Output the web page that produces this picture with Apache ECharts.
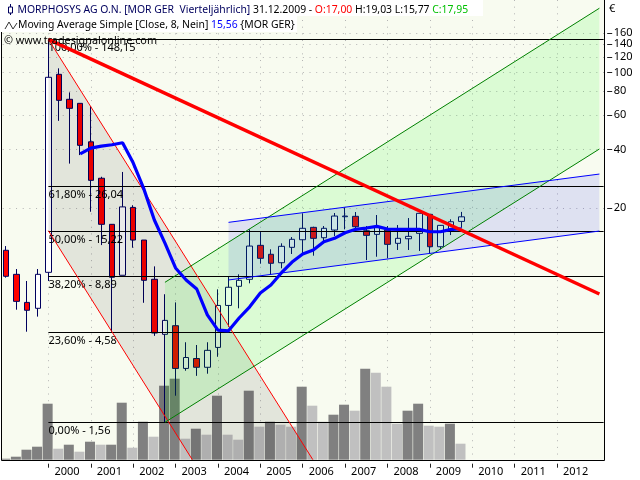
<!DOCTYPE html>
<html><head><meta charset="utf-8">
<style>html,body{margin:0;padding:0;background:#fff}#c{width:640px;height:480px}</style>
<script src="https://cdn.jsdelivr.net/npm/echarts@6/dist/echarts.min.js"></script>
</head><body><div id="c"></div>
<script>
// quarters 1999 Q1 .. 2013 Q1
const firstYear = 1999, lastYear = 2013;
const categories = [];
for (let y = firstYear; y <= lastYear; y++) for (let q = 1; q <= 4; q++) if (y < lastYear || q === 1) categories.push(y + ' Q' + q);
// [open, close, low, high]
const ohlc = [
[12.06,8.85,8.71,12.68],[9.06,6.57,5.95,9.65],[6.49,5.91,4.58,8.37],[6.05,9.06,5.48,9.65],
[9.28,94.3,8.37,148.15],[97.7,71.7,56.2,104.9],[72.6,65.2,33.8,78.8],[69.2,42.0,37.4,69.2],
[43.8,27.7,19.07,67.0],[28.4,16.42,12.83,28.9],[16.42,8.75,4.58,16.48],[8.96,20.2,8.96,30.6],
[20.08,13.62,12.43,20.6],[13.62,8.44,6.46,13.62],[8.54,4.51,4.36,9.96],[4.44,5.24,1.56,7.15],
[4.92,2.96,2.14,6.49],[2.96,3.37,2.88,4.04],[3.33,3.00,2.71,3.91],[3.00,3.67,2.78,4.04],
[3.80,6.26,3.40,7.58],[6.26,7.77,4.86,8.88],[7.86,8.44,6.05,9.06],[8.54,12.68,8.14,15.47],
[12.79,10.96,10.28,14.98],[11.50,10.33,8.99,12.20],[10.40,12.64,9.73,13.10],[12.49,13.74,11.54,14.11],
[13.67,15.66,11.68,18.71],[15.84,13.90,11.31,15.96],[14.00,15.66,13.10,16.09],[15.34,18.12,14.28,18.78],
[17.97,18.12,15.47,20.08],[18.06,15.96,15.16,19.0],[15.21,14.40,10.74,16.09],[14.57,15.84,11.17,18.34],
[15.34,12.94,10.96,16.09],[13.10,13.90,12.10,16.28],[13.83,14.23,12.10,17.69],[14.75,18.71,11.96,18.71],
[18.49,12.58,11.63,18.49],[12.58,16.22,12.20,16.28],[15.21,16.93,14.45,17.43],[17.00,17.95,15.77,19.03]
];
const movingAverage = [null,null,null,null,null,null,null,
37.9,40.6,41.6,42.3,43.3,34.1,25.1,17.28,13.14,9.77,8.47,7.61,5.59,4.67,4.63,5.39,6.16,7.26,7.98,9.24,10.49,11.54,12.10,
13.35,13.90,14.86,15.47,15.71,16.03,15.52,15.47,15.47,15.47,15.03,15.03,15.47,15.56];
const volume = [1,3,10,13,56,11,15,8,18,15,15,57,12,38,23,74,81,21,31,25,64,25,20,69,33,38,35,33,73,54,38,45,55,49,91,87,73,36,49,56,34,33,36,16];
const fibLevels = [148.15,26.04,15.22,8.89,4.58,1.56];
const fibLabels = ['100,00% - 148,15','61,80% - 26,04','50,00% - 15,22','38,20% - 8,89','23,60% - 4,58','0,00% - 1,56'];
const yTicks = [20,40,60,80,100,120,140,160];
// trend objects as [quarter index, price]
const redTrend = [[4,148.15],[56,7.17]];
const redChannelA = [[4,148.15],[28.96,1]];
const redChannelB = [[4,15.22],[17.58,1]];
const greenChannelA = [[15,8.24],[56,214.4]];
const greenChannelB = [[15,1.56],[56,40.2]];
const blueChannelA = [[21,16.81],[56,29.85]];
const blueChannelB = [[21,8.47],[56,15.16]];

const FONT = '"Noto Sans"';
const gridTop = 0, gridH = 459.7;
const bandFn = (i, v) => /Q1$/.test(v) && i >= 4 && i <= 52;
const bands = [
  {a:redChannelA, b:redChannelB, fill:'rgba(0,0,0,0.085)'},
  {a:greenChannelA, b:greenChannelB, fill:'rgba(0,255,0,0.115)'},
  {a:blueChannelA, b:blueChannelB, fill:'rgba(0,0,255,0.10)'}
];
const line = (data, color, width, z) => ({type:'line', xAxisIndex:1, yAxisIndex:0, data, showSymbol:false, symbol:'none',
  lineStyle:{color, width}, z, silent:true, clip:true, animation:false});
const DOT = '#b4b4b4', H = '10.4px '+FONT;

const chart = echarts.init(document.getElementById('c'), null, {renderer:'canvas'});
chart.setOption({
  animation:false,
  backgroundColor:'#fff',
  textStyle:{fontFamily:FONT},
  grid:[
    {left:0.7, width:604, top:gridTop, height:gridH, show:true, backgroundColor:'#f8fbf0', borderWidth:0, z:0},
    {left:-0.6, width:604, top:gridTop, height:gridH}
  ],
  xAxis:[
    {type:'category', gridIndex:0, data:categories, position:'bottom', offset:4, boundaryGap:true,
     axisLine:{show:false},
     axisTick:{show:true, alignWithLabel:true, interval:bandFn, length:4, lineStyle:{color:'#222'}},
     splitLine:{show:true, alignWithLabel:true, interval:bandFn, lineStyle:{color:DOT, type:[1,5.67]}},
     axisLabel:{interval:bandFn, formatter:v=>v.slice(0,4), align:'left', padding:[0,0,0,6], margin:3, fontSize:11, color:'#000', fontFamily:FONT, hideOverlap:false}},
    {type:'value', gridIndex:0, min:-0.5, max:56.5, show:false},
    {type:'category', gridIndex:1, data:categories, show:false}
  ],
  yAxis:[
    {type:'log', logBase:10, gridIndex:0, min:1, max:236.4, position:'right', offset:2.5,
     axisLine:{show:false},
     axisTick:{show:false},
     axisLabel:{customValues:yTicks, margin:6.5, fontSize:11, color:'#000', fontFamily:FONT},
     splitLine:{show:false}, minorSplitLine:{show:false}},
    {type:'value', gridIndex:1, min:0, max:gridH, show:false}
  ],
  series:[
    {type:'bar', xAxisIndex:2, yAxisIndex:1, barWidth:10, z:1, silent:true,
     data:volume.map((v,i)=>({value:v, itemStyle:{color:(i===0||v>=volume[i-1])?'#808080':'#c0c0c0'}}))},
    {type:'custom', xAxisIndex:1, yAxisIndex:0, z:1, silent:true, clip:false,
     data:yTicks.map(v=>[0,v]),
     renderItem:(p,api)=>{const v=yTicks[p.dataIndex];const a=api.coord([-0.5,v]),b=api.coord([56.5,v]);
       const y=Math.round(a[1])+0.5;
       return {type:'group',children:[
         {type:'line',shape:{x1:a[0]+2,y1:y,x2:b[0],y2:y},style:{stroke:DOT,lineWidth:1,lineDash:[1,5.67]}},
         {type:'line',shape:{x1:b[0]+2.5,y1:y,x2:b[0]+7.5,y2:y},style:{stroke:'#222',lineWidth:1}}
       ]};}},
    {type:'candlestick', xAxisIndex:0, yAxisIndex:0, data:ohlc, barWidth:6, z:2, silent:true,
     itemStyle:{color:'#ffffff', color0:'#ff0000', borderColor:'#00005e', borderColor0:'#00005e', borderWidth:1}},
    {type:'custom', xAxisIndex:1, yAxisIndex:0, z:3, silent:true, clip:true,
     data:bands.map(b=>[b.a[0][0], b.a[0][1]]),
     renderItem:(p,api)=>{const b=bands[p.dataIndex];
       const pts=[b.a[0],b.a[1],b.b[1],b.b[0]].map(q=>api.coord(q));
       return {type:'polygon',shape:{points:pts},style:{fill:b.fill}};}},
    line(redChannelA,'#ff0000',1,4), line(redChannelB,'#ff0000',1,4),
    line(greenChannelA,'#008000',1,4), line(greenChannelB,'#008000',1,4),
    line(blueChannelA,'#0000ff',1,4), line(blueChannelB,'#0000ff',1,4),
    {type:'custom', xAxisIndex:1, yAxisIndex:0, z:4, silent:true, clip:false,
     data:fibLevels.map(v=>[4,v]),
     renderItem:(p,api)=>{const v=fibLevels[p.dataIndex];const a=api.coord([4,v]),b=api.coord([56.4,v]);
       const y=Math.round(a[1])+0.5;
       return {type:'group',children:[
         {type:'line',shape:{x1:a[0],y1:y,x2:b[0],y2:y},style:{stroke:'#000',lineWidth:1}},
         {type:'text',x:a[0],y:a[1]+9,style:{text:fibLabels[p.dataIndex],fill:'#000',font:'11px '+FONT,verticalAlign:'middle',align:'left'}}
       ]};}},
    {type:'line', xAxisIndex:0, yAxisIndex:0, data:movingAverage, showSymbol:false, symbol:'none', connectNulls:false,
     lineStyle:{color:'#0000ff', width:3.2}, z:5, silent:true},
    line(redTrend,'#ff0000',3.5,6)
  ],
  graphic:{elements:[
    {type:'rect',z:90,silent:true,shape:{x:0,y:0,width:1,height:480},style:{fill:'#fff'}},
    {type:'rect',z:90,silent:true,shape:{x:1.5,y:-5,width:603,height:465.5},style:{fill:'none',stroke:'#000',lineWidth:1}},
    {type:'rect',z:91,silent:true,shape:{x:0,y:0,width:483,height:16},style:{fill:'#fff'}},
    {type:'rect',z:91,silent:true,shape:{x:0,y:16,width:297,height:16},style:{fill:'#fff'}},
    {type:'line',z:92,silent:true,shape:{x1:10.5,y1:4,x2:10.5,y2:15},style:{stroke:'#00005e',lineWidth:1}},
    {type:'rect',z:93,silent:true,shape:{x:8.5,y:7,width:4,height:6},style:{fill:'#fff',stroke:'#00005e',lineWidth:1}},
    {type:'polyline',z:92,silent:true,shape:{points:[[5,29],[9,22],[13,29],[17,23]]},style:{stroke:'#333',lineWidth:1,fill:'none'}},
    {type:'text',z:92,silent:true,x:17.5,y:10,style:{
      text:'{n|MORPHOSYS AG O.N. [MOR GER  Vierteljährlich] }{k|31.12.2009 - }{o|O:17,00 }{k|H:19,03 L:15,77 }{c|C:17,95}',
      verticalAlign:'middle',align:'left',font:H,
      rich:{n:{fill:'#00005e',font:H},k:{fill:'#000',font:H},o:{fill:'#ff0000',font:H},c:{fill:'#00c000',font:H}}}},
    {type:'text',z:92,silent:true,x:18,y:25,style:{
      text:'{k|Moving Average Simple [Close, 8, Nein] }{b|15,56 }{k|{MOR GER}}',
      verticalAlign:'middle',align:'left',font:H,
      rich:{k:{fill:'#000',font:H},b:{fill:'#0000ff',font:H}}}},
    {type:'text',z:92,silent:true,x:4,y:41,style:{text:'© www.tradesignalonline.com',fill:'#000',font:'10.8px '+FONT,verticalAlign:'middle',align:'left'}},
    {type:'text',z:92,silent:true,x:609,y:9,style:{text:'€',fill:'#000',font:'11px '+FONT,verticalAlign:'middle',align:'left'}}
  ]}
});
</script></body></html>
